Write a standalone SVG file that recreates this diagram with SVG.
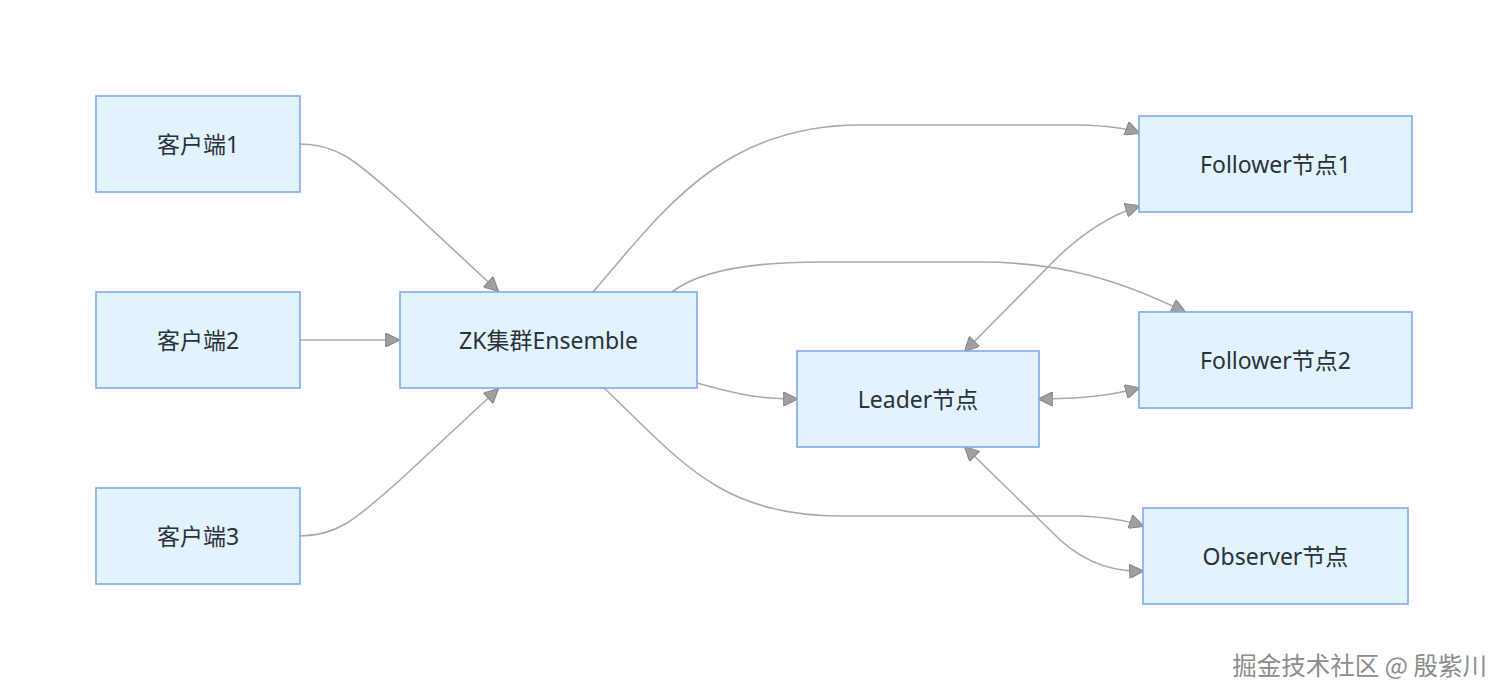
<svg xmlns="http://www.w3.org/2000/svg" width="1508" height="700" viewBox="0 0 1508 700">
<style>
.node rect{fill:#e3f3fd;stroke:#7fa8ea;stroke-width:1.6}
.node text{font-family:"Noto Sans","Noto Sans CJK SC",sans-serif;font-size:23px;fill:#2a323c;text-anchor:middle;dominant-baseline:central}
.edges path{fill:none;stroke:#aaaaaa;stroke-width:1.6}
.wm{font-family:"Noto Sans CJK SC","Noto Sans",sans-serif;font-size:24.5px;fill:#8c8c8c;stroke:#ffffff;stroke-width:0.6;paint-order:stroke;text-anchor:end}
</style>
<defs>
<marker id="ah" viewBox="0 0 10 10" refX="9.5" refY="5" markerUnits="userSpaceOnUse" markerWidth="16" markerHeight="14" orient="auto-start-reverse">
<path d="M0,0 L10,5 L0,10 z" fill="#a0a0a0" stroke="#888" stroke-width="0.8"/>
</marker>
</defs>
<rect width="1508" height="700" fill="#ffffff"/>
<g class="edges">
<path d="M300,144 C340,144 360,165 400,200 L498,291" marker-end="url(#ah)"/>
<path d="M300,340 L399,340" marker-end="url(#ah)"/>
<path d="M300,536 C340,536 360,515 400,480 L498,389" marker-end="url(#ah)"/>
<path d="M593,292 C660,215 720,125 860,125 L1080,125 Q1120,126 1139,133" marker-end="url(#ah)"/>
<path d="M672,292 Q710,262 820,262 L980,262 C1060,262 1120,280 1185,312" marker-end="url(#ah)"/>
<path d="M697,383 C740,395 760,399 797,399" marker-end="url(#ah)"/>
<path d="M604,388 C680,460 720,516 840,516 L1080,516 Q1120,518 1143,526" marker-end="url(#ah)"/>
<path d="M965,351 L1045,270 Q1090,222 1139,206" marker-start="url(#ah)" marker-end="url(#ah)"/>
<path d="M1039,399 C1080,399 1110,396 1139,388" marker-start="url(#ah)" marker-end="url(#ah)"/>
<path d="M965,447 L1050,530 Q1090,573 1143,571" marker-start="url(#ah)" marker-end="url(#ah)"/>
</g>
<g id="c1" class="node"><rect x="96" y="96" width="204" height="96"/><text x="198" y="144">客户端1</text></g>
<g id="c2" class="node"><rect x="96" y="292" width="204" height="96"/><text x="198" y="340">客户端2</text></g>
<g id="c3" class="node"><rect x="96" y="488" width="204" height="96"/><text x="198" y="536">客户端3</text></g>
<g id="zk" class="node"><rect x="400" y="292" width="297" height="96"/><text x="548.5" y="340">ZK集群Ensemble</text></g>
<g id="leader" class="node"><rect x="797" y="351" width="242" height="96"/><text x="918" y="399">Leader节点</text></g>
<g id="f1" class="node"><rect x="1139" y="116" width="273" height="96"/><text x="1275.5" y="164">Follower节点1</text></g>
<g id="f2" class="node"><rect x="1139" y="312" width="273" height="96"/><text x="1275.5" y="360">Follower节点2</text></g>
<g id="obs" class="node"><rect x="1143" y="508" width="265" height="96"/><text x="1275.5" y="556">Observer节点</text></g>
<text class="wm" x="1487" y="675">掘金技术社区 @ 殷紫川</text>
</svg>
